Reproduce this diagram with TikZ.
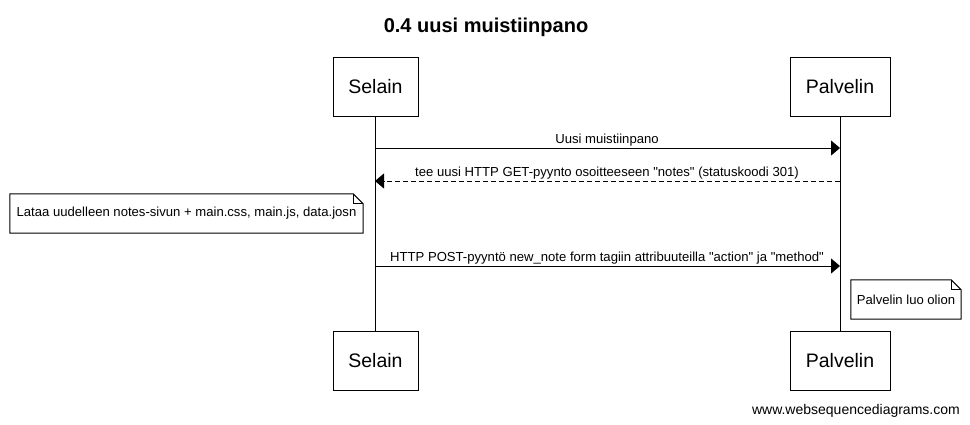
\documentclass[tikz,border=0pt]{standalone}
\usepackage{fontspec}
\setmainfont{Liberation Sans}[Ligatures=TeXOff]
\usetikzlibrary{calc,arrows.meta}
\tikzset{
  actor/.style={draw,fill=white,line width=1pt,minimum height=59pt,inner sep=0pt,font=\fontsize{19.5}{22}\selectfont},
  msg/.style={line width=1pt,-{Triangle[length=9pt,width=15pt]}},
  reply/.style={msg,dash pattern=on 5pt off 3pt},
  msgtext/.style={font=\fontsize{13.1}{15}\selectfont,anchor=base,inner sep=0pt},
  notebox/.style={inner sep=0pt,minimum height=39pt,font=\fontsize{13.1}{15}\selectfont}
}
\newcommand{\notefold}[1]{%
  \draw[line width=1pt] (#1.north west) -- ($(#1.north east)-(10,0)$) -- ($(#1.north east)+(0,10)$) -- (#1.south east) -- (#1.south west) -- cycle;
  \draw[line width=1pt] ($(#1.north east)-(10,0)$) -- ($(#1.north east)+(-10,10)$) -- ($(#1.north east)+(0,10)$);
}
\begin{document}
\begin{tikzpicture}[x=1pt,y=-1pt]
        \useasboundingbox (0,0) rectangle (970,424);
        % title
        \node[anchor=base,inner sep=0pt,font=\fontsize{20}{24}\selectfont\bfseries] (title) at (486,32) {0.4 uusi muistiinpano};
        % lifelines
        \draw[line width=1pt] (375,116) -- (375,331);
        \draw[line width=1pt] (840,116) -- (840,331);
        % actors
        \node[actor,minimum width=85pt] (selaintop) at (375.5,86.5) {Selain};
        \node[actor,minimum width=100pt] (palvelintop) at (840,86.5) {Palvelin};
        \node[actor,minimum width=85pt] (selainbot) at (375.5,360.5) {Selain};
        \node[actor,minimum width=100pt] (palvelinbot) at (840,360.5) {Palvelin};
        % messages
        \coordinate (s1) at (375,148);
        \coordinate (p1) at (840,148);
        \draw[msg] (s1) -- (p1);
        \node[msgtext] (m1) at (607,143) {Uusi muistiinpano};
        \coordinate (s2) at (375,181);
        \coordinate (p2) at (840,181);
        \draw[reply] (p2) -- (s2);
        \node[msgtext] (m2) at (607,176) {tee uusi HTTP GET-pyynto osoitteeseen "notes" (statuskoodi 301)};
        \coordinate (s3) at (375,266);
        \coordinate (p3) at (840,266);
        \draw[msg] (s3) -- (p3);
        \node[msgtext] (m3) at (607,261) {HTTP POST-pyyntö new\_note form tagiin attribuuteilla "action" ja "method"};
        % notes
        \node[notebox,minimum width=353pt] (note1) at (186.5,213.5) {Lataa uudelleen notes-sivun + main.css, main.js, data.josn};
        \notefold{note1}
        \node[notebox,minimum width=110pt] (note2) at (906,299.5) {Palvelin luo olion};
        \notefold{note2}
        % footer
        \node[anchor=base east,inner sep=0pt,font=\fontsize{14}{16}\selectfont] (footer) at (960,414) {www.websequencediagrams.com};
    \end{tikzpicture}
\end{document}
